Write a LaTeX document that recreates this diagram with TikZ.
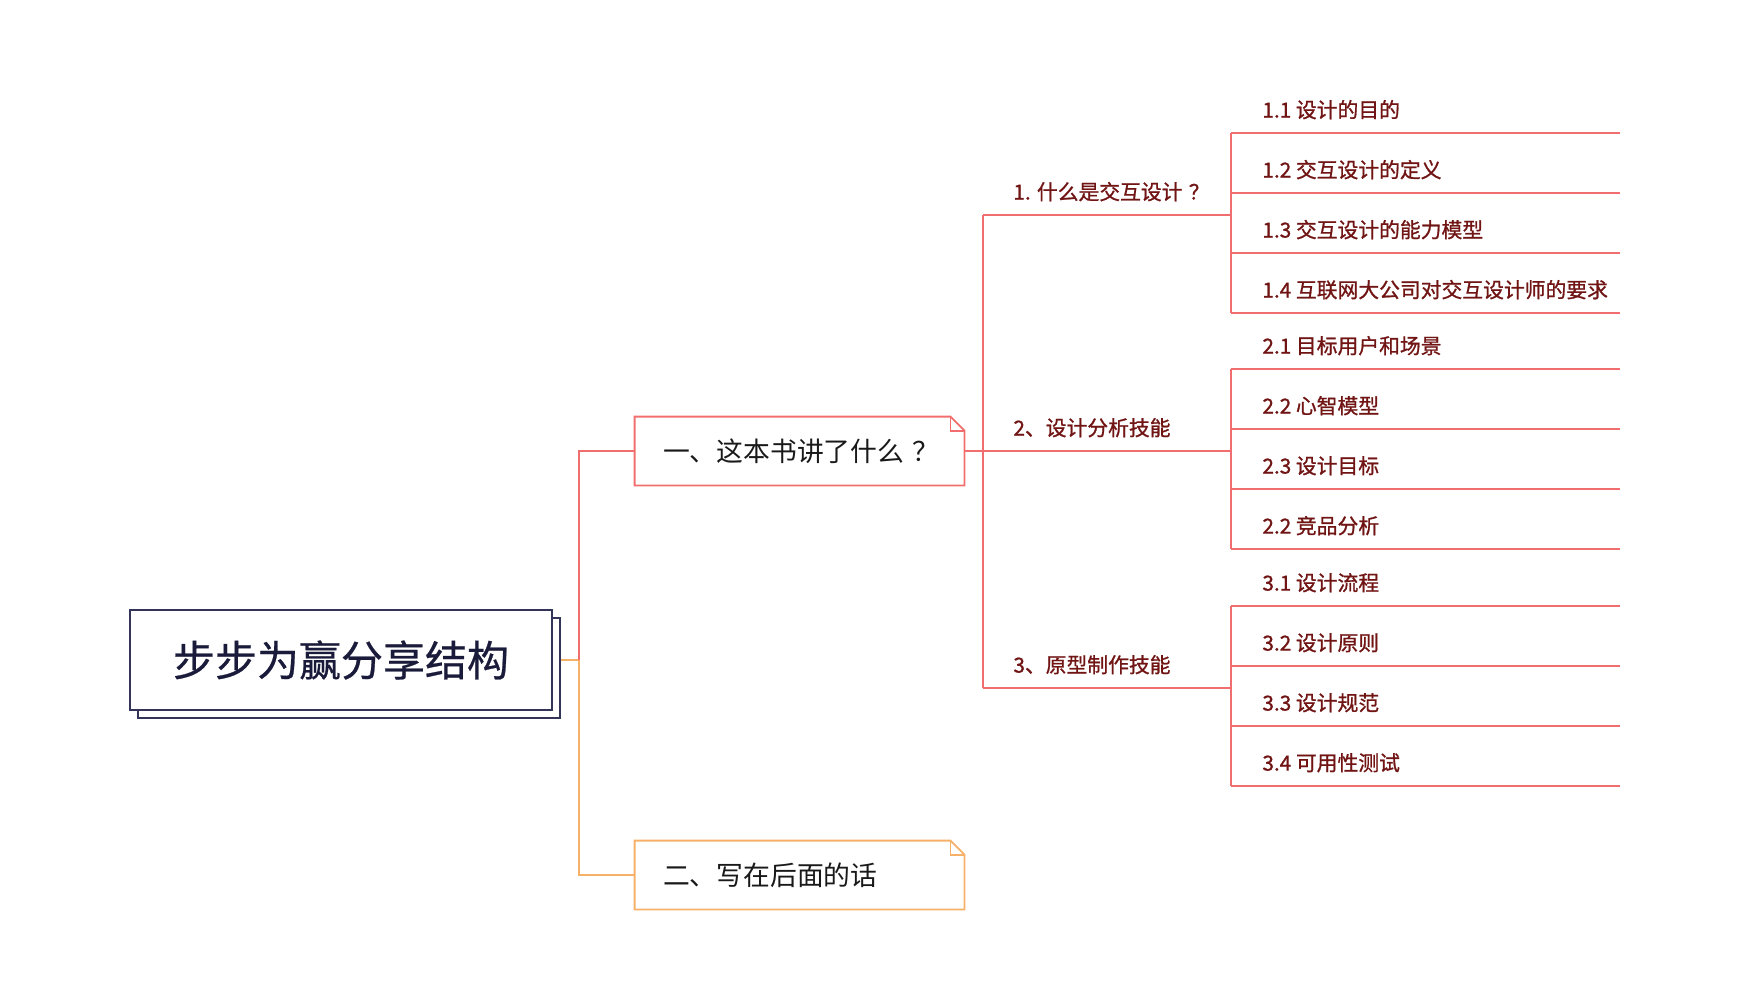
\documentclass[tikz,border=0pt]{standalone}
\usepackage{fontspec}
\setmainfont{Noto Sans CJK SC}
\newfontfamily\itemfont{Noto Sans CJK SC}[FakeBold=1]
\newfontfamily\rootfont{Noto Sans CJK SC}[FakeBold=0.6]
\usetikzlibrary{shadows}

\definecolor{mapred}{RGB}{242,110,110}
\definecolor{maporange}{RGB}{246,176,104}
\definecolor{mapnavy}{RGB}{52,52,88}
\definecolor{rootink}{RGB}{26,26,58}
\definecolor{itemink}{RGB}{112,20,20}

\tikzset{
  rootbox/.style={draw=mapnavy, line width=1pt, fill=white, minimum width=211pt, minimum height=50pt,
    text=rootink, font=\rootfont\fontsize{21}{26}\selectfont,
    copy shadow={shadow xshift=4pt, shadow yshift=-4pt, draw=mapnavy, fill=white, line width=0.8pt}},
  notebox/.style={minimum height=34pt, inner xsep=14pt, text width=136.5pt, align=left,
    font=\fontsize{13.4}{16}\selectfont, text=black!90},
  branch/.style={anchor=south west, inner xsep=15pt, inner ysep=5.5pt, text height=9pt, text depth=2pt,
    font=\itemfont\fontsize{10.4}{12}\selectfont, text=itemink},
  leaf/.style={branch, inner xsep=15.5pt},
  redline/.style={draw=mapred, line width=0.9pt},
  orangeline/.style={draw=maporange, line width=0.9pt},
}

\begin{document}
\begin{tikzpicture}[x=0.5pt, y=-0.5pt]
\useasboundingbox (0,0) rectangle (1748,994);

% Root
\node[rootbox] (root) at (341,660) {步步为赢分享结构};
\coordinate (trunk) at (579,660);
\coordinate (rim) at (1620,0);

% Main chapters
\node[notebox] (one) at (799.5,451) {\mbox{一、这本书讲了什么\hspace{.3em}？}};
\node[notebox] (two) at (799.5,875) {\mbox{二、写在后面的话}};
\draw[redline] (one.north west) -- ([xshift=-7pt]one.north east) -- ([yshift=-7pt]one.north east)
  -- (one.south east) -- (one.south west) -- cycle;
\draw[redline] ([xshift=-7pt]one.north east) |- ([yshift=-7pt]one.north east);
\draw[orangeline] (two.north west) -- ([xshift=-7pt]two.north east) -- ([yshift=-7pt]two.north east)
  -- (two.south east) -- (two.south west) -- cycle;
\draw[orangeline] ([xshift=-7pt]two.north east) |- ([yshift=-7pt]two.north east);

\draw[orangeline] ([xshift=4pt]root.east) -- (trunk) |- (two.west);
\draw[redline] (trunk) |- (one.west);

% Sections
\node[branch] (g1) at (983,215) {1. 什么是交互设计\hspace{.3em}？};
\node[branch] (g2) at (983,451) {2、设计分析技能};
\node[branch] (g3) at (983,688) {3、原型制作技能};
\draw[redline] (g1.south west) -- (g3.south west);
\draw[redline] (one.east) -- (g2.south west);

% Items
\foreach \txt [count=\i] in {1.1 设计的目的, 1.2 交互设计的定义, 1.3 交互设计的能力模型, 1.4 互联网大公司对交互设计师的要求}{
  \node[leaf] (a\i) at (1231,73+60*\i) {\txt};
  \draw[redline] (a\i.south west) -- (a\i.south west -| rim);
}
\foreach \txt [count=\i] in {2.1 目标用户和场景, 2.2 心智模型, 2.3 设计目标, 2.2 竞品分析}{
  \node[leaf] (b\i) at (1231,309+60*\i) {\txt};
  \draw[redline] (b\i.south west) -- (b\i.south west -| rim);
}
\foreach \txt [count=\i] in {3.1 设计流程, 3.2 设计原则, 3.3 设计规范, 3.4 可用性测试}{
  \node[leaf] (c\i) at (1231,546+60*\i) {\txt};
  \draw[redline] (c\i.south west) -- (c\i.south west -| rim);
}
\draw[redline] (a1.south west) -- (a4.south west);
\draw[redline] (b1.south west) -- (b4.south west);
\draw[redline] (c1.south west) -- (c4.south west);

% Section lines
\draw[redline] (g1.south west) -- (g1.south west -| a1.south west);
\draw[redline] (g2.south west) -- (g2.south west -| b1.south west);
\draw[redline] (g3.south west) -- (g3.south west -| c1.south west);
\end{tikzpicture}
\end{document}
